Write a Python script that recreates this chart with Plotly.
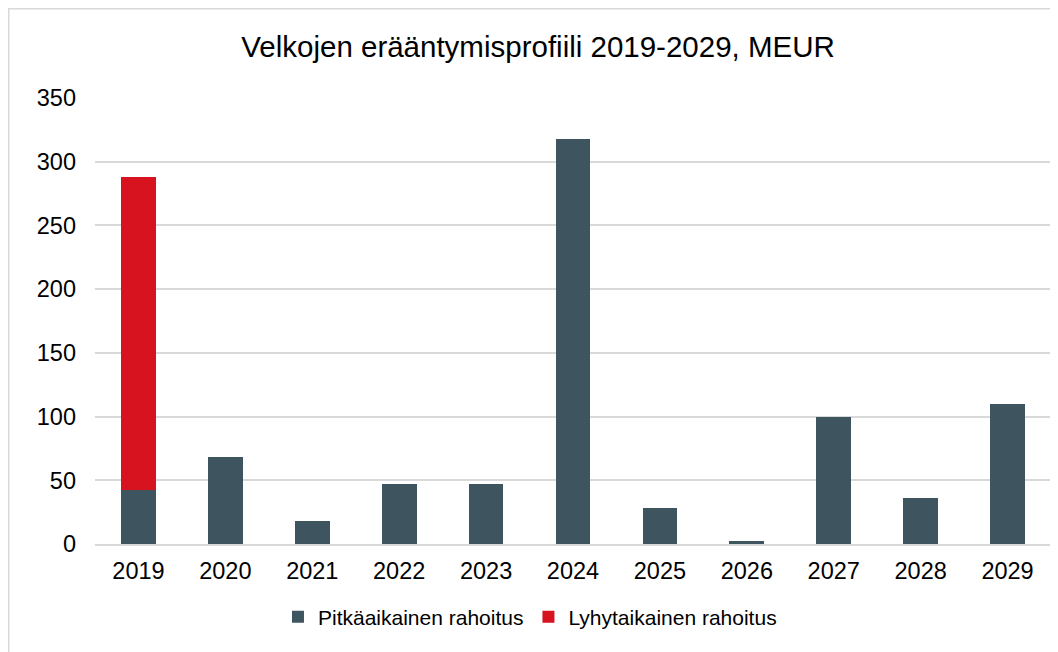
import plotly.graph_objects as go

# debt maturity profile, MEUR
years = ["2019", "2020", "2021", "2022", "2023", "2024", "2025", "2026", "2027", "2028", "2029"]
long_term = [42, 68, 18, 47, 47, 318, 28, 2, 100, 36, 110]
short_term = [246, 0, 0, 0, 0, 0, 0, 0, 0, 0, 0]

dark = "#3e5560"
red = "#d7131f"
grid = "#d9d9d9"
font_family = "Liberation Sans, Arial, sans-serif"

W, H = 1050, 644
L, R, T, B = 87, 7, 90, 108
pw, ph = W - L - R, H - T - B

fig = go.Figure()
fig.add_trace(go.Bar(x=years, y=long_term, name="Pitkäaikainen rahoitus",
                     marker=dict(color=dark, line=dict(width=0))))
fig.add_trace(go.Bar(x=years, y=short_term, name="Lyhytaikainen rahoitus",
                     marker=dict(color=red, line=dict(width=0))))

# outer chart frame, cut at right and bottom like the original
fig.add_shape(type="rect", xref="paper", yref="paper",
              x0=(0.5 - L) / pw, x1=1.2, y0=-0.5, y1=(ph + T - 0.5) / ph,
              line=dict(color=grid, width=2), layer="below")

fig.update_layout(
    width=W, height=H,
    margin=dict(l=L, r=R, t=T, b=B),
    paper_bgcolor="white", plot_bgcolor="white",
    barmode="stack", bargap=0.6,
    font=dict(family=font_family, color="#000000"),
    title=dict(text="Velkojen erääntymisprofiili 2019-2029, MEUR",
               x=0.5048, xanchor="center", y=1 - 39 / H, yanchor="middle",
               font=dict(size=29.5)),
    xaxis=dict(showgrid=False, showline=True, linecolor=grid, linewidth=2,
               ticks="", tickfont=dict(size=23.5), ticklabelstandoff=5),
    yaxis=dict(range=[0, 350], dtick=50, showgrid=True, gridcolor=grid,
               gridwidth=1.5, zeroline=False, ticks="",
               tickfont=dict(size=23.5), ticklabelstandoff=18),
    legend=dict(orientation="h", x=0.455, xanchor="center",
                y=-(609 - T - ph) / ph, yanchor="middle", font=dict(size=21),
                traceorder="normal"),
    showlegend=True,
)

fig.write_html("out.html")
